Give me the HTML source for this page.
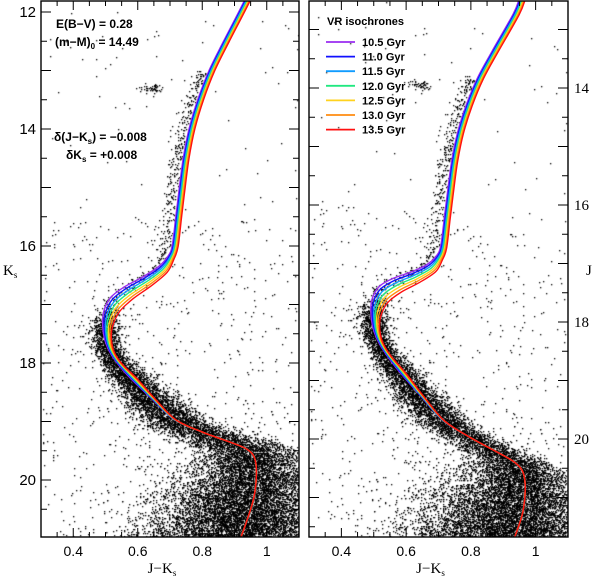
<!DOCTYPE html>
<html><head><meta charset="utf-8"><style>
html,body{margin:0;padding:0;background:#fff;}
#wrap{position:relative;width:600px;height:579px;overflow:hidden;font-family:"Liberation Sans",sans-serif;}
canvas,svg{position:absolute;left:0;top:0;}
</style></head><body>
<div id="wrap">
<canvas id="stars" width="600" height="579"></canvas>
<svg id="svg" width="600" height="579"></svg>
</div>
<script>
// ---- data ----
const ages = ["10.5 Gyr","11.0 Gyr","11.5 Gyr","12.0 Gyr","12.5 Gyr","13.0 Gyr","13.5 Gyr"];
const isoColors = ["#9a2cf0","#1010ff","#109cff","#20e880","#ffd21e","#ff8c10","#ff1010"];
const colorShift = [-0.009,-0.006,-0.003,0,0.003,0.006,0.009];
const magShift = [-0.13,-0.09,-0.045,0,0.045,0.09,0.13];
const baseColor = [0.960,0.940,0.875,0.830,0.795,0.768,0.750,0.738,0.727,0.716,0.703,0.678,0.630,0.572,0.530,0.508,0.505,0.515,0.540,0.585,0.650,0.716,0.800,0.900,0.940,0.962,0.968,0.960,0.938,0.905];
const baseK     = [11.50,11.80,12.50,13.00,13.50,14.00,14.50,15.00,15.50,16.00,16.20,16.40,16.60,16.80,17.00,17.25,17.50,17.75,17.98,18.25,18.62,18.97,19.18,19.38,19.48,19.62,19.90,20.30,20.70,21.20];
const xTicks = [0.4,0.6,0.8,1];
const xTickLabels = ["0.4","0.6","0.8","1"];
const kTicks = [12,14,16,18,20];
const jTicks = [14,16,18,20];

// ---- axes ----
const L = {x0:41,x1:299}, R = {x0:309,x1:568};
const yTop = 1, yBot = 537;
function xs(p,c){return p.x0+(c-0.3)/0.8*(p.x1-p.x0);}
function yK(k){return 12+(k-12)*58.5;}
function yJ(j){return 88+(j-14)*58.5;}

const svg = document.getElementById('svg');
const NS = "http://www.w3.org/2000/svg";
function mk(tag,attrs,parent){const e=document.createElementNS(NS,tag);for(const k in attrs)e.setAttribute(k,attrs[k]);(parent||svg).appendChild(e);return e;}

// ---- stars (background texture) ----
let seed=12345;function rnd(){seed=(seed*1103515245+12345)%2147483648;return seed/2147483648;}
function gauss(){let u=rnd()||1e-9,v=rnd();return Math.sqrt(-2*Math.log(u))*Math.cos(6.283185*v);}
function curveColorAt(k){for(let i=0;i<baseK.length-1;i++){if(k>=baseK[i]&&k<=baseK[i+1]){const t=(k-baseK[i])/(baseK[i+1]-baseK[i]);return baseColor[i]+t*(baseColor[i+1]-baseColor[i]);}}return baseColor[baseColor.length-1];}
const stars=[];
for(let i=0;i<13000;i++){ // main sequence band
  const k=17.0+Math.pow(rnd(),0.6)*4.2;
  const s=0.022+0.028*Math.max(0,k-17.8)+0.03*Math.max(0,k-19.5);
  stars.push([curveColorAt(k)-0.008+gauss()*s,k]);
}
for(let i=0;i<450;i++){ // SGB / RGB
  const k=13.0+rnd()*4.0;
  stars.push([curveColorAt(k)-0.03+gauss()*0.013,k]);
}
for(let i=0;i<50;i++)stars.push([0.64+gauss()*0.02,13.3+gauss()*0.04]); // clump
for(let i=0;i<6500;i++){ // faint field blob
  stars.push([0.92+gauss()*0.15,21.0+gauss()*0.7]);
}
for(let i=0;i<700;i++)stars.push([0.3+rnd()*0.8,15.5+rnd()*5.6]);
for(let i=0;i<80;i++)stars.push([0.3+rnd()*0.8,12+rnd()*4]);
const ctx=document.getElementById('stars').getContext('2d');
ctx.fillStyle="#000";
function drawStars(p,useJ){
  ctx.save();ctx.beginPath();ctx.rect(p.x0,yTop,p.x1-p.x0,yBot-yTop);ctx.clip();
  for(const s of stars){const x=xs(p,s[0]);const y=useJ?yJ(s[1]+s[0]):yK(s[1]);ctx.fillRect(Math.round(x),Math.round(y),1.3,1.3);}
  ctx.restore();
}
drawStars(L,false);drawStars(R,true);

// ---- isochrones ----
function isoPoints(a){
  const pts=[];
  for(let i=0;i<baseK.length;i++){
    const k=baseK[i];
    const wc=k<18.3?1:(k>19.2?0:1-(k-18.3)/0.9);
    const wm=Math.exp(-Math.pow((k-17.2)/0.8,2));
    const c=baseColor[i]+colorShift[a]*wc*(k>16.3&&k<18.3?1.5:1);
    pts.push([c,k+magShift[a]*wm]);
  }
  return pts;
}
function pathFrom(pts){
  let d="M"+pts[0][0].toFixed(2)+","+pts[0][1].toFixed(2);
  for(let i=0;i<pts.length-1;i++){
    const p0=pts[Math.max(0,i-1)],p1=pts[i],p2=pts[i+1],p3=pts[Math.min(pts.length-1,i+2)];
    const c1=[p1[0]+(p2[0]-p0[0])/6,p1[1]+(p2[1]-p0[1])/6],c2=[p2[0]-(p3[0]-p1[0])/6,p2[1]-(p3[1]-p1[1])/6];
    d+=" C"+c1[0].toFixed(2)+","+c1[1].toFixed(2)+" "+c2[0].toFixed(2)+","+c2[1].toFixed(2)+" "+p2[0].toFixed(2)+","+p2[1].toFixed(2);
  }
  return d;
}
const defs=mk('defs',{});
[['clipL',L],['clipR',R]].forEach(([id,p])=>{const cp=mk('clipPath',{id:id},defs);mk('rect',{x:p.x0,y:yTop,width:p.x1-p.x0,height:yBot-yTop},cp);});
[[L,false,'clipL','left'],[R,true,'clipR','right']].forEach(([p,useJ,cl,side])=>{
  const g=mk('g',{'clip-path':'url(#'+cl+')'});
  
  
  for(let a=0;a<ages.length;a++){
    const pts=isoPoints(a).map(q=>[xs(p,q[0]),useJ?yJ(q[1]+q[0]):yK(q[1])]);
    const path=mk('path',{d:pathFrom(pts),fill:'none',stroke:isoColors[a],'stroke-width':'1.4'},g);
    
    
  }
});

// ---- frames and ticks ----
function txt(x,y,s,attrs,name){const t=mk('text',Object.assign({x:x,y:y,'font-size':14,'font-family':'Liberation Sans, sans-serif',fill:'#000'},attrs||{}));t.textContent=s;return t;}
[[L,'left'],[R,'right']].forEach(([p,side])=>{
  const f=mk('rect',{x:p.x0,y:yTop,width:p.x1-p.x0,height:yBot-yTop,fill:'none',stroke:'#000','stroke-width':1.4});
  
  for(let c=0.3;c<=1.1001;c+=0.05){
    const x=xs(p,c),major=Math.abs(c*5-Math.round(c*5))<1e-6,len=major?9:5;
    mk('line',{x1:x,y1:yBot,x2:x,y2:yBot-len,stroke:'#000','stroke-width':1});
    mk('line',{x1:x,y1:yTop,x2:x,y2:yTop+len,stroke:'#000','stroke-width':1});
  }
  xTicks.forEach((c,i)=>txt(xs(p,c),556,xTickLabels[i],{'text-anchor':'middle'},side+'-x-tick-label'));
  const xl=txt((p.x0+p.x1)/2-8,573,'J\u2212K',{'text-anchor':'middle','font-family':'Liberation Serif, serif','font-size':15},side+'-x-axis-title');
  const sub=mk('tspan',{'font-size':9,dy:3},xl);sub.textContent='s';
  const yfn=side==='left'?yK:yJ;
  const v0=side==='left'?11.5:12.5;
  for(let v=v0;v<=22;v+=0.5){
    const y=yfn(v);if(y<yTop+2||y>yBot-2)continue;
    const len=(Math.abs(v-Math.round(v))<1e-6)?10:6;
    mk('line',{x1:p.x0,y1:y,x2:p.x0+len,y2:y,stroke:'#000','stroke-width':1});
    mk('line',{x1:p.x1,y1:y,x2:p.x1-len,y2:y,stroke:'#000','stroke-width':1});
  }
});
kTicks.forEach(v=>txt(36,yK(v)+5,String(v),{'text-anchor':'end','font-size':15},'y-tick-label-ks'));
jTicks.forEach(v=>txt(574,yJ(v)+5,String(v),{'font-size':15,'font-family':'Liberation Serif, serif'},'y-tick-label-j'));
const yl=txt(3,275,'K',{'font-family':'Liberation Serif, serif','font-size':15},'y-axis-title-ks');
const ys=mk('tspan',{'font-size':9,dy:3},yl);ys.textContent='s';
txt(586,275,'J',{'font-family':'Liberation Serif, serif','font-size':15},'y-axis-title-j');

// ---- annotations ----
const an={'font-size':12,'font-weight':'bold','font-family':'Liberation Sans, sans-serif'};
txt(56,28,'E(B\u2212V)  =  0.28',an,'reddening-label');
const dm=txt(55,46,'(m\u2212M)',an,'distance-modulus-label');
const d0=mk('tspan',{'font-size':8,dy:3},dm);d0.textContent='0';
const d1=mk('tspan',{dy:-3},dm);d1.textContent='  =  14.49';
const sc=txt(54,141,'\u03b4(J\u2212K',an,'color-shift-label');
const s1=mk('tspan',{'font-size':8,dy:3},sc);s1.textContent='s';
const s2=mk('tspan',{dy:-3},sc);s2.textContent=')  =  \u22120.008';
const sk=txt(66,159,'\u03b4K',an,'mag-shift-label');
const s3=mk('tspan',{'font-size':8,dy:3},sk);s3.textContent='s';
const s4=mk('tspan',{dy:-3},sk);s4.textContent='  =  +0.008';

// ---- legend ----
const lg=mk('g',{});

const lt=mk('text',{x:327,y:25,'font-size':11,'font-weight':'bold','font-family':'Liberation Sans, sans-serif'},lg);
lt.textContent='VR isochrones';
ages.forEach((a,i)=>{
  const y=42+i*14.6;
  const e=mk('g',{},lg);
  
  
  mk('line',{x1:326,y1:y,x2:355,y2:y,stroke:isoColors[i],'stroke-width':1.8},e);
  const t=mk('text',{x:362,y:y+4,'font-size':11,'font-weight':'bold','font-family':'Liberation Sans, sans-serif'},e);t.textContent=a;
});
</script>
</body></html>
